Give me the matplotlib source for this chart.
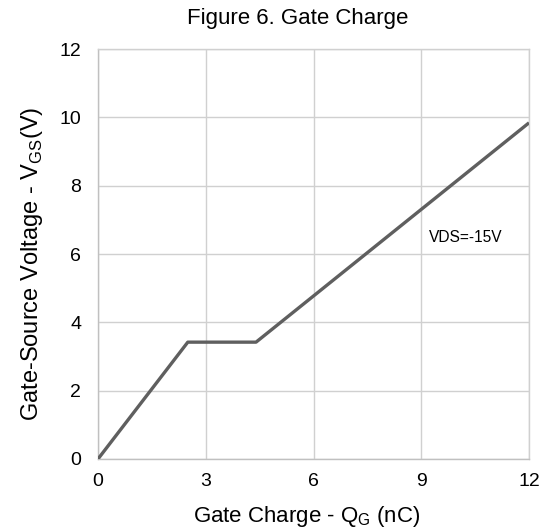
import matplotlib
matplotlib.use("Agg")
import matplotlib.pyplot as plt

plt.rcParams['font.family'] = ['Liberation Sans', 'DejaVu Sans']
plt.rcParams['mathtext.fontset'] = 'custom'
plt.rcParams['mathtext.rm'] = 'Liberation Sans'

# Gate charge curve (nC, V)
qg = [0.0, 2.5, 4.4, 12.0]
vgs = [0.0, 3.42, 3.42, 9.84]

x_ticks = [0, 3, 6, 9, 12]
y_ticks = [0, 2, 4, 6, 8, 10, 12]

fig = plt.figure(figsize=(5.49, 5.31), dpi=100)
ax = fig.add_axes([0.1785, 0.1356, 0.7851, 0.7721])

ax.plot(qg, vgs, color='#5f5f5f', linewidth=2.4, solid_capstyle='butt', zorder=3)

ax.set_xlim(0, 12)
ax.set_ylim(0, 12)
ax.set_xticks(x_ticks)
ax.set_yticks(y_ticks)
ax.tick_params(length=0, labelsize=14, colors='black')
ax.tick_params(axis='y', pad=12)
ax.tick_params(axis='x', pad=10)
ax.grid(True, color='#d0d0d0', linewidth=1.0)
for s in ax.spines.values():
    s.set_color('#d0d0d0')
    s.set_linewidth(1.0)
ax.spines['left'].set_color('#c0c0c0')
ax.spines['bottom'].set_color('#c0c0c0')

ax.text(9.2, 6.47, 'VDS=-15V', fontsize=11.2, va='center', ha='left')

fig.text(0.543, 0.966, 'Figure 6. Gate Charge', fontsize=16, ha='center', va='center')
fig.text(0.559, 0.027, r'Gate Charge - Q$_\mathregular{G}$ (nC)', fontsize=16,
         ha='center', va='center')
ax.set_ylabel(r'Gate-Source Voltage - V$_\mathregular{GS}$(V)', fontsize=17)
ax.yaxis.set_label_coords(-0.124, 0.475)

fig.savefig('out.png', dpi=100)
